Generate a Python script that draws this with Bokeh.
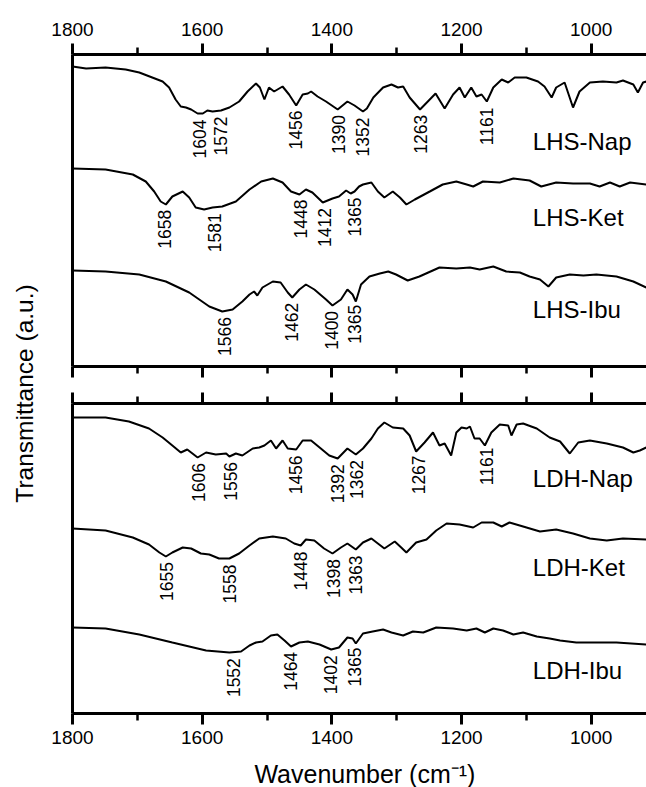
import numpy as np
from bokeh.plotting import figure
from bokeh.models import Range1d, LinearAxis, FixedTicker, Label, ColumnDataSource
from bokeh.layouts import row, column
from bokeh.embed import file_html
from bokeh.resources import INLINE
from bokeh.core.properties import value

FONT = "Liberation Sans"

# ---------------- data ----------------
x_ticks = [1800, 1600, 1400, 1200, 1000]
x_minor = [1700, 1500, 1300, 1100, 900]

lhs_nap_wn = [1800, 1779, 1749, 1718, 1697, 1677, 1661, 1651, 1641, 1633, 1625, 1617, 1607, 1599, 1592,
              1584, 1571, 1558, 1543, 1530, 1517, 1511, 1504, 1497, 1489, 1476, 1466, 1455, 1445, 1437,
              1432, 1422, 1409, 1391, 1376, 1365, 1352, 1346, 1336, 1321, 1308, 1298, 1290, 1280, 1264,
              1252, 1240, 1226, 1213, 1203, 1195, 1185, 1177, 1169, 1161, 1151, 1138, 1128, 1118, 1100,
              1082, 1072, 1061, 1054, 1041, 1028, 1018, 1002, 982, 961, 951, 935, 928, 920, 915]
lhs_nap_t = [3.00, 2.98, 2.99, 2.97, 2.94, 2.89, 2.85, 2.79, 2.67, 2.60, 2.59, 2.57, 2.53, 2.53, 2.56,
             2.55, 2.56, 2.59, 2.65, 2.75, 2.83, 2.79, 2.67, 2.79, 2.75, 2.80, 2.72, 2.61, 2.72, 2.73,
             2.75, 2.70, 2.65, 2.57, 2.65, 2.61, 2.55, 2.58, 2.69, 2.79, 2.82, 2.79, 2.80, 2.69, 2.57,
             2.65, 2.73, 2.58, 2.72, 2.79, 2.69, 2.79, 2.70, 2.72, 2.65, 2.79, 2.87, 2.84, 2.89, 2.89,
             2.85, 2.80, 2.69, 2.79, 2.84, 2.59, 2.75, 2.84, 2.85, 2.84, 2.86, 2.82, 2.74, 2.84, 2.85]
lhs_nap_peaks = [1604, 1572, 1456, 1390, 1352, 1263, 1161]

lhs_ket_wn = [1800, 1749, 1707, 1687, 1674, 1664, 1656, 1646, 1630, 1620, 1610, 1597, 1584, 1569, 1548,
              1527, 1509, 1491, 1476, 1463, 1450, 1440, 1430, 1414, 1399, 1389, 1378, 1371, 1365, 1358,
              1352, 1339, 1329, 1319, 1306, 1295, 1285, 1272, 1249, 1229, 1208, 1192, 1182, 1167, 1141,
              1120, 1095, 1077, 1054, 1028, 1002, 987, 971, 956, 940, 915]
lhs_ket_t = [1.98, 1.97, 1.92, 1.85, 1.75, 1.65, 1.62, 1.70, 1.75, 1.69, 1.59, 1.57, 1.59, 1.60, 1.65,
             1.77, 1.85, 1.88, 1.84, 1.75, 1.72, 1.77, 1.74, 1.64, 1.68, 1.70, 1.76, 1.73, 1.75, 1.80,
             1.82, 1.84, 1.75, 1.69, 1.75, 1.69, 1.62, 1.67, 1.75, 1.82, 1.85, 1.82, 1.80, 1.85, 1.84,
             1.88, 1.86, 1.80, 1.84, 1.83, 1.83, 1.80, 1.84, 1.80, 1.84, 1.82]
lhs_ket_peaks = [1658, 1581, 1448, 1412, 1365]

lhs_ibu_wn = [1800, 1749, 1697, 1656, 1620, 1589, 1569, 1553, 1538, 1527, 1520, 1515, 1507, 1491, 1479,
              1468, 1461, 1450, 1440, 1427, 1409, 1399, 1386, 1376, 1368, 1363, 1355, 1342, 1326, 1313,
              1301, 1283, 1265, 1234, 1208, 1187, 1172, 1151, 1131, 1110, 1095, 1079, 1066, 1054, 1033,
              1012, 992, 961, 935, 915]
lhs_ibu_t = [0.96, 0.95, 0.92, 0.85, 0.74, 0.60, 0.55, 0.57, 0.65, 0.72, 0.75, 0.71, 0.79, 0.85, 0.84,
             0.74, 0.69, 0.77, 0.82, 0.77, 0.67, 0.61, 0.67, 0.77, 0.72, 0.65, 0.82, 0.90, 0.93, 0.95,
             0.92, 0.86, 0.90, 0.99, 0.98, 0.99, 0.97, 1.00, 0.95, 0.94, 0.90, 0.87, 0.80, 0.89, 0.92,
             0.91, 0.92, 0.90, 0.85, 0.79]
lhs_ibu_peaks = [1566, 1462, 1400, 1365]

ldh_nap_wn = [1800, 1749, 1713, 1682, 1661, 1646, 1633, 1623, 1607, 1594, 1579, 1563, 1558, 1548, 1538,
              1522, 1512, 1504, 1494, 1486, 1476, 1468, 1455, 1445, 1432, 1417, 1404, 1391, 1376, 1363,
              1352, 1339, 1329, 1319, 1306, 1290, 1280, 1270, 1257, 1244, 1234, 1226, 1216, 1208, 1200,
              1192, 1187, 1180, 1172, 1164, 1154, 1141, 1128, 1123, 1115, 1105, 1084, 1064, 1048, 1033,
              1020, 1002, 976, 951, 935, 925, 915]
ldh_nap_t = [2.96, 2.96, 2.92, 2.85, 2.76, 2.68, 2.61, 2.64, 2.56, 2.61, 2.59, 2.60, 2.57, 2.60, 2.58,
             2.65, 2.66, 2.68, 2.73, 2.65, 2.73, 2.65, 2.64, 2.73, 2.73, 2.65, 2.58, 2.55, 2.65, 2.59,
             2.65, 2.75, 2.85, 2.91, 2.86, 2.85, 2.78, 2.62, 2.71, 2.81, 2.68, 2.70, 2.58, 2.81, 2.86,
             2.85, 2.87, 2.75, 2.75, 2.68, 2.81, 2.89, 2.88, 2.78, 2.89, 2.90, 2.85, 2.76, 2.72, 2.60,
             2.71, 2.73, 2.70, 2.66, 2.61, 2.63, 2.66]
ldh_nap_peaks = [1606, 1556, 1456, 1392, 1362, 1267, 1161]

ldh_ket_wn = [1800, 1749, 1707, 1682, 1666, 1656, 1646, 1630, 1617, 1602, 1589, 1574, 1558, 1543, 1527,
              1512, 1491, 1471, 1458, 1448, 1440, 1427, 1412, 1399, 1386, 1376, 1363, 1352, 1339, 1329,
              1319, 1303, 1293, 1285, 1270, 1254, 1239, 1223, 1203, 1182, 1169, 1151, 1138, 1126, 1105,
              1079, 1054, 1028, 1002, 976, 951, 915]
ldh_ket_t = [1.85, 1.83, 1.76, 1.69, 1.61, 1.57, 1.61, 1.66, 1.65, 1.60, 1.59, 1.55, 1.55, 1.60, 1.68,
             1.75, 1.77, 1.75, 1.70, 1.68, 1.74, 1.73, 1.65, 1.60, 1.66, 1.70, 1.64, 1.71, 1.75, 1.70,
             1.65, 1.72, 1.66, 1.61, 1.71, 1.74, 1.83, 1.90, 1.89, 1.86, 1.91, 1.91, 1.87, 1.91, 1.87,
             1.82, 1.84, 1.80, 1.75, 1.73, 1.75, 1.74]
ldh_ket_peaks = [1655, 1558, 1448, 1398, 1363]

ldh_ibu_wn = [1800, 1749, 1697, 1646, 1594, 1558, 1540, 1527, 1517, 1507, 1494, 1484, 1473, 1463, 1450,
              1437, 1419, 1401, 1389, 1376, 1368, 1363, 1352, 1337, 1321, 1308, 1290, 1275, 1259, 1239,
              1213, 1192, 1177, 1164, 1151, 1136, 1120, 1105, 1084, 1064, 1048, 1023, 1002, 961, 915]
ldh_ibu_t = [0.86, 0.85, 0.79, 0.71, 0.63, 0.61, 0.62, 0.68, 0.71, 0.72, 0.78, 0.79, 0.73, 0.67, 0.71,
             0.72, 0.69, 0.64, 0.66, 0.76, 0.75, 0.70, 0.80, 0.82, 0.84, 0.81, 0.78, 0.82, 0.81, 0.86,
             0.85, 0.83, 0.85, 0.81, 0.85, 0.83, 0.79, 0.81, 0.77, 0.75, 0.73, 0.71, 0.71, 0.71, 0.69]
ldh_ibu_peaks = [1552, 1464, 1402, 1365]

top_series = [("LHS-Nap", lhs_nap_wn, lhs_nap_t, lhs_nap_peaks, 2.25),
              ("LHS-Ket", lhs_ket_wn, lhs_ket_t, lhs_ket_peaks, 1.49),
              ("LHS-Ibu", lhs_ibu_wn, lhs_ibu_t, lhs_ibu_peaks, 0.57)]
bottom_series = [("LDH-Nap", ldh_nap_wn, ldh_nap_t, ldh_nap_peaks, 2.35),
                 ("LDH-Ket", ldh_ket_wn, ldh_ket_t, ldh_ket_peaks, 1.46),
                 ("LDH-Ibu", ldh_ibu_wn, ldh_ibu_t, ldh_ibu_peaks, 0.43)]

x_title = "Wavenumber (cm\u207b\u00b9)"
y_title = "Transmittance (a.u.)"

# ---------------- drawing ----------------
LEFT_W = 40
PANEL_W = 646 - LEFT_W
X_END = 914.7
LABEL_GAP = 0.06   # gap between band minimum and its label (data units)


def style_axis(ax, labels=True, ticks=True, standoff=6):
    ax.axis_line_color = "black"
    ax.axis_line_width = 3
    ax.major_tick_line_color = "black" if ticks else None
    ax.minor_tick_line_color = "black" if ticks else None
    ax.major_tick_line_width = 3
    ax.minor_tick_line_width = 2.5
    ax.major_tick_in = 0
    ax.minor_tick_in = 0
    ax.major_tick_out = 11 if ticks else 0
    ax.minor_tick_out = 7 if ticks else 0
    ax.major_label_text_font = FONT
    if labels:
        ax.major_label_text_color = "black"
        ax.major_label_text_font_size = "19px"
        ax.major_label_standoff = standoff
    else:
        # ticks only: labels are not painted at all
        ax.major_label_text_color = None
        ax.major_label_text_font_size = "1px"
        ax.major_label_standoff = 0


def make_panel(height, ymax, b_top, b_bottom, series, top_labels, bottom_labels):
    p = figure(width=PANEL_W, height=height, x_range=Range1d(1800, X_END), y_range=Range1d(0, ymax),
               output_backend="svg", toolbar_location=None,
               x_axis_location=None, y_axis_location=None,
               min_border_left=72 - LEFT_W, min_border_right=0,
               min_border_top=b_top, min_border_bottom=b_bottom)
    p.outline_line_color = None
    p.grid.grid_line_color = None
    p.background_fill_color = "white"
    p.border_fill_color = "white"

    ax_top = LinearAxis(ticker=FixedTicker(ticks=x_ticks, minor_ticks=x_minor))
    style_axis(ax_top, labels=top_labels, standoff=8)
    p.add_layout(ax_top, "above")

    ax_bot = LinearAxis(ticker=FixedTicker(ticks=x_ticks, minor_ticks=x_minor))
    style_axis(ax_bot, labels=bottom_labels, standoff=6)
    p.add_layout(ax_bot, "below")

    ax_left = LinearAxis(ticker=FixedTicker(ticks=[]))
    style_axis(ax_left, labels=False, ticks=False)
    p.add_layout(ax_left, "left")

    for name, wn, t, peaks, name_y in series:
        p.line(wn, t, line_color="black", line_width=2)
        wn_a = np.array(wn, dtype=float)
        t_a = np.array(t, dtype=float)
        py = np.interp(peaks, wn_a[::-1], t_a[::-1]) - LABEL_GAP
        src = ColumnDataSource(dict(x=peaks, y=py, text=[str(v) for v in peaks]))
        p.text(x="x", y="y", text="text", source=src, angle=np.pi / 2,
               text_align="right", text_baseline="middle",
               text_font=value(FONT), text_font_size="17.5px", text_color="black")
        p.text(x=[1090], y=[name_y], text=[name], text_align="left", text_baseline="middle",
               text_font=value(FONT), text_font_size="24px", text_color="black")
    return p


top = make_panel(385, 3.12, 54, 19, top_series, True, False)
bot = make_panel(370, 3.10, 18, 42, bottom_series, False, True)

# strip under the panels that carries the x-axis title
XT_H = 787 - 385 - 370
xfig = figure(width=PANEL_W, height=XT_H, x_range=Range1d(1800, X_END), y_range=Range1d(0, XT_H),
              output_backend="svg", toolbar_location=None,
              x_axis_location=None, y_axis_location=None,
              min_border_left=72 - LEFT_W, min_border_right=0, min_border_top=0, min_border_bottom=0)
xfig.outline_line_color = None
xfig.grid.grid_line_color = None
xfig.add_layout(Label(x=1349, y=14, text=x_title, text_align="center", text_baseline="middle",
                      text_font=FONT, text_font_size="25px", text_color="black"))

yfig = figure(width=LEFT_W, height=787, x_range=Range1d(0, LEFT_W), y_range=Range1d(0, 787),
              output_backend="svg", toolbar_location=None,
              x_axis_location=None, y_axis_location=None, min_border=0)
yfig.outline_line_color = None
yfig.grid.grid_line_color = None
yfig.add_layout(Label(x=24, y=394, text=y_title, angle=np.pi / 2,
                      text_align="center", text_baseline="middle",
                      text_font=FONT, text_font_size="24.5px", text_color="black"))

layout = row(yfig, column(top, bot, xfig))
open("out.html", "w").write(file_html(layout, INLINE, title="FTIR spectra"))
